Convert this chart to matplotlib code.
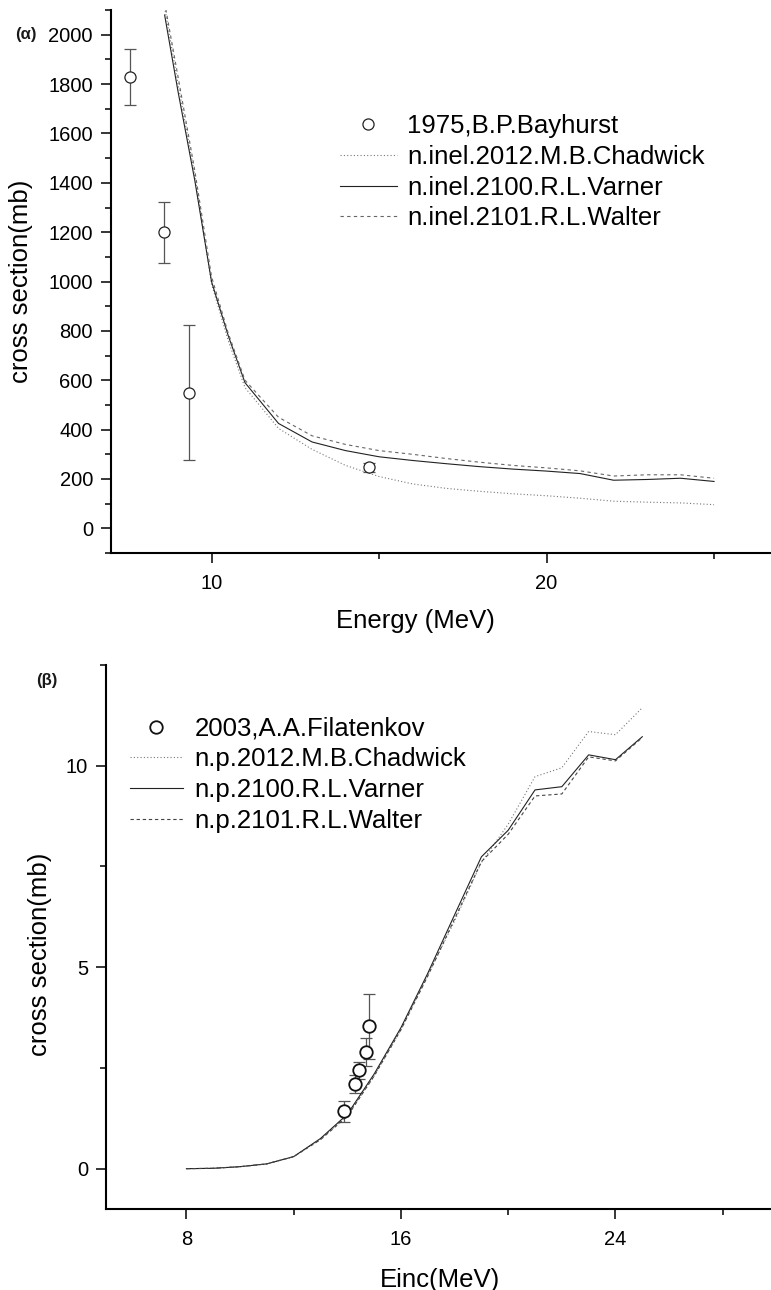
import matplotlib
matplotlib.use("Agg")
from matplotlib import pyplot as plt
from matplotlib.ticker import MultipleLocator

plt.rcParams['font.family'] = ['Liberation Sans', 'DejaVu Sans']

# (a) inelastic cross section
inel_exp_e = [7.57, 8.58, 9.33, 14.7]
inel_exp_cs = [1830, 1200, 550, 248]
inel_exp_err = [113, 123, 272, 18]

inel_e = [8.6, 9, 9.5, 10, 10.5, 11, 12, 13, 14, 15, 16, 17, 18, 19, 20, 21, 22, 23, 24, 25]
inel_chadwick = [2110, 1800, 1430, 990, 760, 570, 405, 320, 255, 210, 180, 162, 150, 140, 132, 122, 110, 106, 103, 96]
inel_varner = [2080, 1770, 1410, 1000, 780, 590, 425, 350, 315, 290, 275, 262, 250, 240, 232, 222, 195, 198, 203, 190]
inel_walter = [2130, 1830, 1450, 1020, 790, 600, 450, 375, 340, 315, 300, 283, 268, 255, 245, 233, 212, 217, 217, 203]

# (b) (n,p) cross section
np_exp_e = [13.86, 14.29, 14.44, 14.69, 14.81]
np_exp_cs = [1.42, 2.11, 2.44, 2.89, 3.53]
np_exp_err = [0.27, 0.22, 0.22, 0.35, 0.8]

np_e = [8, 9, 10, 11, 12, 13, 14, 15, 16, 17, 18, 19, 20, 21, 22, 23, 24, 25]
np_chadwick = [0, 0.01, 0.05, 0.12, 0.3, 0.73, 1.32, 2.3, 3.45, 4.8, 6.15, 7.6, 8.55, 9.73, 9.95, 10.85, 10.77, 11.44]
np_varner = [0, 0.01, 0.05, 0.12, 0.3, 0.75, 1.35, 2.35, 3.5, 4.85, 6.3, 7.74, 8.4, 9.4, 9.48, 10.27, 10.15, 10.72]
np_walter = [0, 0.01, 0.05, 0.12, 0.3, 0.72, 1.3, 2.3, 3.45, 4.78, 6.2, 7.62, 8.3, 9.25, 9.3, 10.22, 10.12, 10.7]

TICK_FS = 14.5
LABEL_FS = 18.5
LEG_FS = 18.5


def style_axis(ax):
    for side in ('top', 'right'):
        ax.spines[side].set_visible(False)
    for side in ('left', 'bottom'):
        ax.spines[side].set_linewidth(1.5)
    ax.tick_params(which='major', direction='out', length=7, width=1.1,
                   labelsize=TICK_FS, pad=6)
    ax.tick_params(which='minor', direction='out', length=4, width=1.1)
    ax.tick_params(axis='x', which='major', pad=8)


fig = plt.figure(figsize=(7.71, 12.90), dpi=100)

# ---- panel (a)
ax1 = fig.add_axes([0.144, 0.5713, 0.856, 0.4209])
style_axis(ax1)
ax1.errorbar(inel_exp_e, inel_exp_cs, yerr=inel_exp_err, fmt='none',
             ecolor='#555555', elinewidth=0.9, capsize=4, capthick=0.9, zorder=2)
ax1.plot(inel_exp_e, inel_exp_cs, 'o', ms=8, mfc='white', mec='#222222',
         mew=0.9, zorder=3, label='1975,B.P.Bayhurst')
ax1.plot(inel_e, inel_chadwick, ls=(0, (1, 2)), lw=0.8, color='#777777',
         label='n.inel.2012.M.B.Chadwick')
ax1.plot(inel_e, inel_varner, ls='-', lw=0.8, color='#222222',
         label='n.inel.2100.R.L.Varner')
ax1.plot(inel_e, inel_walter, ls=(0, (3, 3)), lw=0.8, color='#666666',
         label='n.inel.2101.R.L.Walter')
ax1.set_xlim(7, 26.7)
ax1.set_ylim(-100, 2100)
ax1.xaxis.set_major_locator(MultipleLocator(10))
ax1.xaxis.set_minor_locator(MultipleLocator(5))
ax1.yaxis.set_major_locator(MultipleLocator(200))
ax1.yaxis.set_minor_locator(MultipleLocator(100))
ax1.set_xlabel('Energy (MeV)', fontsize=LABEL_FS)
ax1.set_ylabel('cross section(mb)', fontsize=LABEL_FS)
ax1.xaxis.set_label_coords(0.462, -0.103)
ax1.yaxis.set_label_coords(-0.118, 0.5)
ax1.legend(loc='upper left', bbox_to_anchor=(0.347, 0.808), frameon=False,
           fontsize=LEG_FS, handlelength=2.2, handletextpad=0.4,
           labelspacing=0.26, borderpad=0, borderaxespad=0, numpoints=1)
fig.text(0.019, 1 - 34 / 1290, '(α)', fontsize=12, fontweight='bold',
         va='center', ha='left', color='#1a1a1a')

# ---- panel (b)
ax2 = fig.add_axes([0.1375, 0.0628, 0.8625, 0.4217])
style_axis(ax2)
ax2.errorbar(np_exp_e, np_exp_cs, yerr=np_exp_err, fmt='none',
             ecolor='#555555', elinewidth=0.9, capsize=4, capthick=0.9, zorder=2)
ax2.plot(np_exp_e, np_exp_cs, 'o', ms=9, mfc='white', mec='#111111',
         mew=1.3, zorder=3, label='2003,A.A.Filatenkov')
ax2.plot(np_e, np_chadwick, ls=(0, (1, 2)), lw=0.8, color='#777777',
         label='n.p.2012.M.B.Chadwick')
ax2.plot(np_e, np_varner, ls='-', lw=0.8, color='#222222',
         label='n.p.2100.R.L.Varner')
ax2.plot(np_e, np_walter, ls=(0, (3, 2.5)), lw=0.8, color='#444444',
         label='n.p.2101.R.L.Walter')
ax2.set_xlim(5, 29.8)
ax2.set_ylim(-1, 12.5)
ax2.xaxis.set_major_locator(MultipleLocator(8))
ax2.xaxis.set_minor_locator(MultipleLocator(4))
ax2.yaxis.set_major_locator(MultipleLocator(5))
ax2.yaxis.set_minor_locator(MultipleLocator(2.5))
ax2.set_xlabel('Einc(MeV)', fontsize=LABEL_FS)
ax2.set_ylabel('cross section(mb)', fontsize=LABEL_FS)
ax2.xaxis.set_label_coords(0.502, -0.108)
ax2.yaxis.set_label_coords(-0.081, 0.469)
ax2.legend(loc='upper left', bbox_to_anchor=(0.036, 0.905), frameon=False,
           fontsize=LEG_FS, handlelength=2.05, handletextpad=0.47,
           labelspacing=0.26, borderpad=0, borderaxespad=0, numpoints=1)
fig.text(0.047, 1 - 680 / 1290, '(β)', fontsize=12, fontweight='bold',
         va='center', ha='left', color='#1a1a1a')

fig.savefig('out.png', dpi=100)
